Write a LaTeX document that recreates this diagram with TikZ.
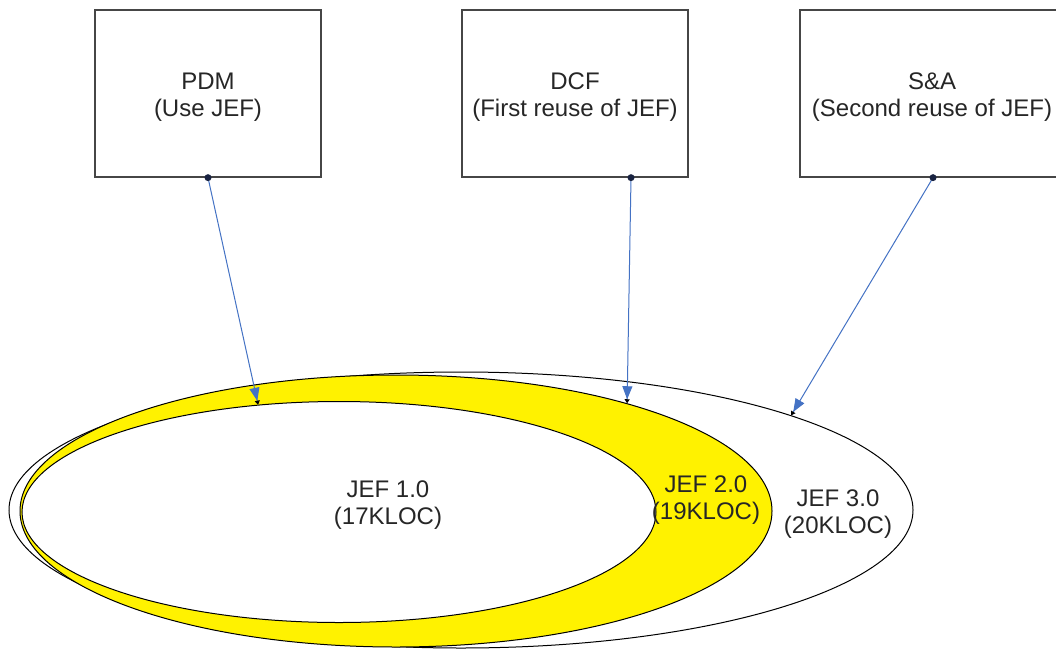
\documentclass[tikz,border=0pt]{standalone}
\usepackage{fontspec}
\setmainfont{Liberation Sans}
\usetikzlibrary{shapes.geometric,arrows.meta,calc}
\definecolor{arrblue}{RGB}{68,114,196}
\definecolor{dotblue}{RGB}{25,35,65}
\definecolor{boxgray}{RGB}{70,70,70}
\begin{document}
\begin{tikzpicture}[x=1pt,y=-1pt,
  appbox/.style={draw=boxgray,line width=1.3pt,fill=white,minimum height=167pt,inner sep=0pt},
  lbl/.style={font=\fontsize{24}{27}\selectfont,align=center,text=black!85},
  ell/.style={ellipse,draw=black,line width=1pt,inner sep=0pt},
  use/.style={draw=arrblue,line width=1pt,-{Triangle[length=13pt,width=10pt,color=arrblue] Triangle[length=4pt,width=5pt,color=black]}},
  startdot/.style={circle,fill=dotblue,inner sep=0pt,minimum size=7pt}]
\useasboundingbox (0,0) rectangle (1056,650);
\fill[white] (0,0) rectangle (1056,650);
% boxes
\node[appbox,minimum width=226pt] (b1) at (208,93.5) {};
\node[appbox,minimum width=226pt] (b2) at (575,93.5) {};
\node[appbox,minimum width=262pt] (b3) at (931,93.5) {};
\node[lbl] (t1) at (208,97) {PDM\\(Use JEF)};
\node[lbl] (t2) at (575,97) {DCF\\(First reuse of JEF)};
\node[lbl] (t3) at (932,97) {S\&A\\(Second reuse of JEF)};
% ellipses
\node[ell,fill=white,minimum width=904pt,minimum height=276pt] (e3) at (461,510) {};
\node[ell,fill=yellow,minimum width=752pt,minimum height=272pt] (e2) at (396,511) {};
\node[ell,fill=white,minimum width=634pt,minimum height=221pt] (e1) at (339,512) {};
\node[lbl] (l1) at (388,505) {JEF 1.0\\(17KLOC)};
\node[lbl] (l2) at (706,500) {JEF 2.0\\(19KLOC)};
\node[lbl] (l3) at (838,514) {JEF 3.0\\(20KLOC)};
% connectors
\coordinate (s1) at ($(b1.south)+(0,0)$);
\coordinate (s2) at ($(b2.south)+(56,0)$);
\coordinate (s3) at ($(b3.south)+(2,0)$);
\draw[use] (s1) -- (e1.127);
\draw[use] (s2) -- (e2.25);
\draw[use] (s3) -- (e3.16);
\node[startdot] (d1) at (s1) {};
\node[startdot] (d2) at (s2) {};
\node[startdot] (d3) at (s3) {};
\end{tikzpicture}
\end{document}
